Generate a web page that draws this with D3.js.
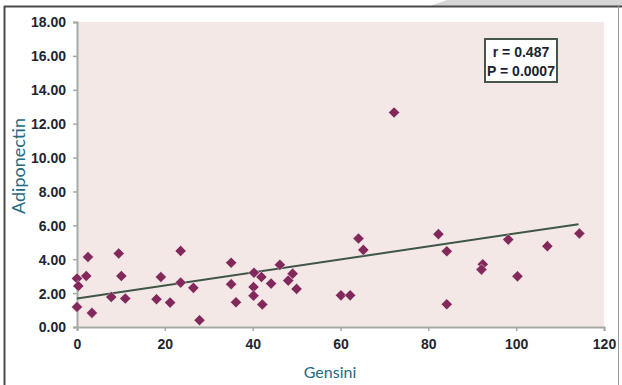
<!DOCTYPE html>
<html>
<head>
<meta charset="utf-8">
<script src="https://cdn.jsdelivr.net/npm/d3@7"></script>
<style>
  body { margin: 0; background: #fff; }
  svg { display: block; }
</style>
</head>
<body>
<script>
// Gensini score vs adiponectin
const gensini = [0, 0.3, 0, 2.1, 2.5, 3.4, 7.8, 9.5, 10.1, 11.0,
  18.1, 19.1, 21.2, 23.6, 23.6, 26.5, 27.9, 35.1, 35.1, 36.2,
  40.3, 40.2, 40.2, 42.0, 42.2, 44.2, 46.2, 48.1, 49.1, 50.0,
  60.1, 62.2, 64.1, 65.2, 72.2, 82.3, 84.2, 84.2, 92.4, 92.1,
  98.2, 100.3, 107.1, 114.4];
const adiponectin = [2.86, 2.42, 1.18, 3.01, 4.13, 0.83, 1.77, 4.34, 3.01, 1.68,
  1.64, 2.95, 1.44, 4.49, 2.62, 2.31, 0.40, 3.79, 2.53, 1.46,
  3.20, 2.36, 1.85, 2.95, 1.33, 2.56, 3.67, 2.74, 3.15, 2.25,
  1.87, 1.87, 5.22, 4.55, 12.66, 5.48, 4.47, 1.34, 3.70, 3.39,
  5.16, 2.99, 4.77, 5.52];
const trendX = [0, 114.2];
const trendY = [1.68, 6.07];
const xTicks = [0, 20, 40, 60, 80, 100, 120];
const yTicks = [0, 2, 4, 6, 8, 10, 12, 14, 16, 18];
const statLines = ["r = 0.487", "P = 0.0007"];

const W = 622, H = 385;
const margin = { top: 22, right: 18, bottom: 58, left: 77 };
const width = W - margin.left - margin.right;
const height = H - margin.top - margin.bottom;

const svg = d3.select("body").append("svg")
  .attr("width", W).attr("height", H);

// frame and the grey corner at top right
svg.append("polygon")
  .attr("points", "427,7 447,0 622,0 622,7")
  .attr("fill", "#d6d6d6");
svg.append("line").attr("x1", 4).attr("x2", 622).attr("y1", 6.5).attr("y2", 6.5)
  .attr("stroke", "#4a4a4a").attr("stroke-width", 2);
svg.append("line").attr("x1", 4.5).attr("x2", 4.5).attr("y1", 6).attr("y2", H)
  .attr("stroke", "#4a4a4a").attr("stroke-width", 2);
svg.append("line").attr("x1", 618.5).attr("x2", 618.5).attr("y1", 6).attr("y2", H)
  .attr("stroke", "#9a9a9a").attr("stroke-width", 1);

const g = svg.append("g")
  .attr("transform", "translate(" + margin.left + "," + margin.top + ")");

const x = d3.scaleLinear().domain([0, 120]).range([0, width]);
const y = d3.scaleLinear().domain([0, 18]).range([height, 0]);

g.append("rect")
  .attr("width", width).attr("height", height)
  .attr("fill", "#f3e8e6");

// axes
const xAxis = g.append("g")
  .attr("transform", "translate(0," + height + ")")
  .call(d3.axisBottom(x).tickValues(xTicks).tickSize(4).tickPadding(8).tickFormat(d3.format("d")));
const yAxis = g.append("g")
  .call(d3.axisLeft(y).tickValues(yTicks).tickSize(4).tickPadding(7).tickFormat(d3.format(".2f")));

[xAxis, yAxis].forEach(a => {
  a.select(".domain").attr("stroke", "#a3aba3").attr("stroke-width", 2);
  a.selectAll(".tick line").attr("stroke", "#a3aba3").attr("stroke-width", 1.5);
  a.selectAll(".tick text")
    .attr("fill", "#1e2630")
    .style("font-family", "'Liberation Sans', Arial, sans-serif")
    .style("font-size", "14px")
    .style("font-weight", "bold");
});
yAxis.selectAll(".tick text").attr("dy", "0.35em");

// trend line
g.append("line")
  .attr("x1", x(trendX[0])).attr("y1", y(trendY[0]))
  .attr("x2", x(trendX[1])).attr("y2", y(trendY[1]))
  .attr("stroke", "#3e5645").attr("stroke-width", 2);

// diamond points
const pts = gensini.map((v, i) => ({ g: v, a: adiponectin[i] }));
const diamond = d3.symbol().type(d3.symbolSquare).size(62);
g.selectAll("path.pt").data(pts).enter().append("path")
  .attr("class", "pt")
  .attr("d", diamond)
  .attr("transform", d => "translate(" + x(d.g) + "," + y(d.a) + ") rotate(45)")
  .attr("fill", "#82285a")
  .attr("stroke", "#fff")
  .attr("stroke-opacity", 0.5)
  .attr("stroke-width", 0.8);

// stats box
const box = svg.append("g");
box.append("rect")
  .attr("x", 485).attr("y", 39).attr("width", 72).attr("height", 43)
  .attr("fill", "#fff").attr("stroke", "#46564a").attr("stroke-width", 2);
box.selectAll("text").data(statLines).enter().append("text")
  .attr("x", 521).attr("y", (d, i) => 57 + i * 18.5)
  .attr("text-anchor", "middle")
  .attr("fill", "#1a2430")
  .style("font-family", "'Liberation Sans', Arial, sans-serif")
  .style("font-size", "14px")
  .style("font-weight", "bold")
  .text(d => d);

// axis titles
svg.append("text")
  .attr("x", 330).attr("y", 378)
  .attr("text-anchor", "middle")
  .attr("fill", "#236a80")
  .style("font-family", "Lato, 'Open Sans', sans-serif")
  .style("font-size", "16px")
  .text("Gensini");
svg.append("text")
  .attr("transform", "translate(25,166) rotate(-90)")
  .attr("text-anchor", "middle")
  .attr("fill", "#236a80")
  .style("font-family", "Lato, 'Open Sans', sans-serif")
  .style("font-size", "18px")
  .text("Adiponectin");
</script>
</body>
</html>
